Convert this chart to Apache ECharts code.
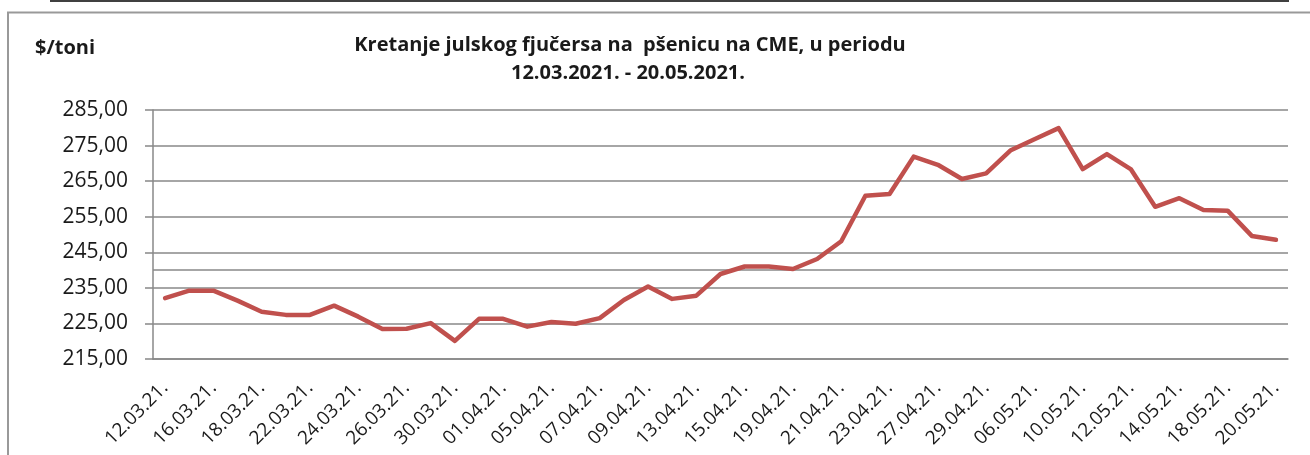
<!DOCTYPE html>
<html>
<head>
<meta charset="utf-8">
<script src="https://cdn.jsdelivr.net/npm/echarts@6/dist/echarts.min.js"></script>
<style>
html,body{margin:0;padding:0;background:#fff;}
#c{width:1310px;height:455px;}
</style>
</head>
<body>
<div id="c"></div>
<script>
const categories = [
  '12.03.21.','15.03.21.','16.03.21.','17.03.21.','18.03.21.','19.03.21.','22.03.21.','23.03.21.',
  '24.03.21.','25.03.21.','26.03.21.','29.03.21.','30.03.21.','31.03.21.','01.04.21.','02.04.21.',
  '05.04.21.','06.04.21.','07.04.21.','08.04.21.','09.04.21.','12.04.21.','13.04.21.','14.04.21.',
  '15.04.21.','16.04.21.','19.04.21.','20.04.21.','21.04.21.','22.04.21.','23.04.21.','26.04.21.',
  '27.04.21.','28.04.21.','29.04.21.','05.05.21.','06.05.21.','07.05.21.','10.05.21.','11.05.21.',
  '12.05.21.','13.05.21.','14.05.21.','17.05.21.','18.05.21.','19.05.21.','20.05.21.'
];
const prices = [
  232.1, 234.2, 234.2, 231.4, 228.3, 227.4, 227.4, 230.0, 226.9, 223.4,
  223.5, 225.1, 220.1, 226.3, 226.3, 224.1, 225.4, 224.9, 226.5, 231.6,
  235.4, 231.9, 232.8, 238.9, 241.0, 241.0, 240.3, 243.1, 248.1, 260.9,
  261.4, 271.9, 269.6, 265.6, 267.2, 273.6, 276.8, 279.9, 268.4, 272.6,
  268.3, 257.8, 260.2, 256.9, 256.7, 249.6, 248.5
];
const yMin = 215;
const yMax = 285;
const yStep = 10;
const extraLineValue = 240;
const titleLines = ['Kretanje julskog fjučersa na  pšenicu na CME, u periodu', '12.03.2021. - 20.05.2021.'];
const unitLabel = '$/toni';

const FONT = '"Open Sans", "Noto Sans", sans-serif';
const chart = echarts.init(document.getElementById('c'), null, {renderer: 'canvas'});
chart.setOption({
  animation: false,
  backgroundColor: '#fff',
  grid: {left: 153, right: 22, top: 110, bottom: 96, containLabel: false},
  xAxis: {
    type: 'category',
    data: categories,
    boundaryGap: true,
    axisLine: {show: true, lineStyle: {color: '#888', width: 1.5}},
    axisTick: {show: false},
    axisLabel: {
      interval: 1, rotate: 45, margin: 26,
      color: '#1a1a1a', fontFamily: FONT, fontSize: 19
    },
    splitLine: {show: false}
  },
  yAxis: {
    type: 'value',
    min: yMin, max: yMax, interval: yStep,
    axisLine: {show: true, lineStyle: {color: '#888', width: 1.5}},
    axisTick: {show: true, length: 8, inside: false, lineStyle: {color: '#888', width: 1.5}},
    axisLabel: {
      margin: 25, color: '#1a1a1a', fontFamily: FONT, fontSize: 21,
      formatter: v => v.toFixed(2).replace('.', ',')
    },
    splitLine: {show: true, lineStyle: {color: '#888', width: 1.5}}
  },
  series: [{
    type: 'line',
    data: prices,
    symbol: 'none',
    lineStyle: {color: '#C0504D', width: 4.5, join: 'round', cap: 'round'},
    markLine: {
      silent: true, symbol: 'none', label: {show: false},
      lineStyle: {color: '#888', width: 1.5, type: 'solid'},
      data: [{yAxis: extraLineValue}]
    },
    z: 5
  }],
  graphic: [
    {type: 'line', shape: {x1: 50, y1: 1, x2: 1289, y2: 1}, style: {stroke: '#000', lineWidth: 1.5}},
    {type: 'polyline', shape: {points: [[8, 460], [8, 12.5], [1312, 12.5]]}, style: {stroke: '#999', lineWidth: 2, fill: null}},
    {type: 'text', style: {text: unitLabel, x: 35, y: 48, textVerticalAlign: 'middle', font: 'bold 20px ' + FONT, fill: '#1a1a1a'}},
    {type: 'text', style: {text: titleLines[0], x: 630, y: 45, textAlign: 'center', textVerticalAlign: 'middle', font: 'bold 20px ' + FONT, fill: '#1a1a1a'}},
    {type: 'text', style: {text: titleLines[1], x: 628, y: 73, textAlign: 'center', textVerticalAlign: 'middle', font: 'bold 20px ' + FONT, fill: '#1a1a1a'}}
  ]
});
</script>
</body>
</html>
